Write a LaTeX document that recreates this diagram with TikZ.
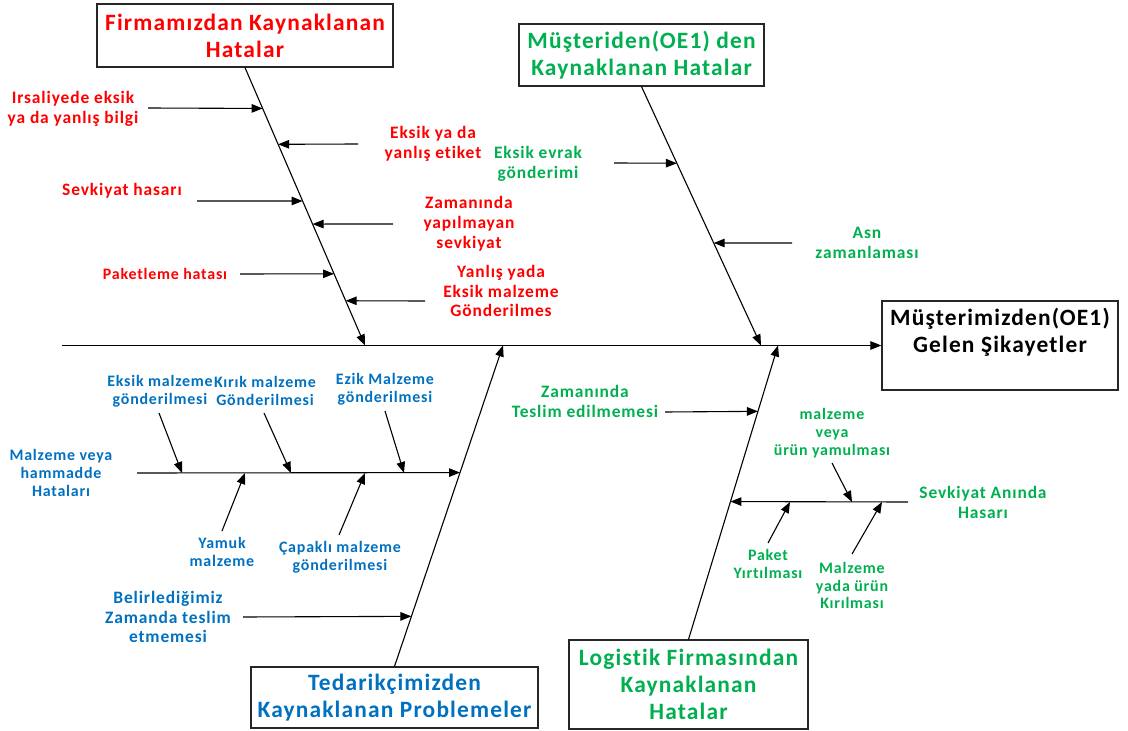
\documentclass[tikz,border=0pt]{standalone}
\usepackage{fontspec}
\setmainfont{Carlito}
\newfontfamily\widefam[LetterSpace=5,Ligatures=NoCommon]{Carlito}
\usetikzlibrary{arrows.meta,calc}
\definecolor{fred}{HTML}{FF0000}
\definecolor{fgreen}{HTML}{00B050}
\definecolor{fblue}{HTML}{0070C0}
\begin{document}
\begin{tikzpicture}[x=1bp,y=-1bp,
  arr/.style={-{Triangle[length=11bp,width=8.5bp]}, line width=1.1bp},
  catbox/.style={draw=black!85, line width=1.2bp, fill=white, inner sep=0pt, align=center,
                 font=\widefam\bfseries\fontsize{23.5}{27}\selectfont},
  lbl/.style={inner sep=0pt, align=center, font=\widefam\bfseries\fontsize{17.5}{20}\selectfont},
  sml/.style={inner sep=0pt, align=center, font=\widefam\bfseries\fontsize{16}{18}\selectfont}]
\useasboundingbox (0,0) rectangle (1128,731);

% ---------- category boxes and effect box ----------
\node[catbox, text=fred, minimum width=296bp, minimum height=63bp] (fb) at (245,35.5)
  {Firmamızdan Kaynaklanan\\Hatalar};
\node[catbox, text=fgreen, minimum width=245bp, minimum height=62bp] (mb) at (641.5,55)
  {Müşteriden(OE1) den\\Kaynaklanan Hatalar};
\node[catbox, text=fblue, minimum width=287bp, minimum height=61bp] (tb) at (394.5,697.5)
  {Tedarikçimizden\\Kaynaklanan Problemeler};
\node[catbox, text=fgreen, minimum width=239bp, minimum height=89bp] (lb) at (688.5,684.5)
  {Logistik Firmasından\\Kaynaklanan\\Hatalar};
\node[draw=black!85, line width=1.2bp, minimum width=236bp, minimum height=89bp] (eb) at (1000,345.5) {};
\node[inner sep=0pt, align=center, font=\widefam\bfseries\fontsize{23.5}{27}\selectfont] (et) at (1000,332.5)
  {Müşterimizden(OE1)\\Gelen Şikayetler};

% ---------- spine ----------
\coordinate (sp0) at (62,345.5);
\draw[arr] (sp0) -- (eb.west);
\coordinate (rt) at (365,345.5);
\coordinate (gt) at (761,345.5);
\coordinate (bt) at (503,345.5);
\coordinate (lt) at (778,345.5);

% ---------- main bones ----------
\draw[arr] (fb.south) -- (rt);
\draw[arr] (mb.south) -- (gt);
\draw[arr] (tb.north) -- (bt);
\draw[arr] (lb.north) -- (lt);

% ---------- causes: Firmamızdan ----------
\coordinate (r1t) at ($(fb.south)!0.147!(rt)$);
\coordinate (r2t) at ($(fb.south)!0.276!(rt)$);
\coordinate (r3t) at ($(fb.south)!0.480!(rt)$);
\coordinate (r4t) at ($(fb.south)!0.563!(rt)$);
\coordinate (r5t) at ($(fb.south)!0.742!(rt)$);
\coordinate (r6t) at ($(fb.south)!0.839!(rt)$);
\coordinate (r1s) at (148,108);
\coordinate (r2s) at (358,144);
\coordinate (r3s) at (197,201);
\coordinate (r4s) at (393,224);
\coordinate (r5s) at (240,274);
\coordinate (r6s) at (425,301);
\draw[arr] (r1s) -- (r1t);
\draw[arr] (r2s) -- (r2t);
\draw[arr] (r3s) -- (r3t);
\draw[arr] (r4s) -- (r4t);
\draw[arr] (r5s) -- (r5t);
\draw[arr] (r6s) -- (r6t);
\node[lbl, text=fred] (r1) at (73,109) {Irsaliyede eksik\\ya da yanlış bilgi};
\node[lbl, text=fred] (r2) at (433,144) {Eksik ya da\\yanlış etiket};
\node[lbl, text=fred] (r3) at (122,191) {Sevkiyat hasarı};
\node[lbl, text=fred] (r4) at (469,224) {Zamanında\\yapılmayan\\sevkiyat};
\node[lbl, text=fred, font=\widefam\bfseries\fontsize{16}{18}\selectfont] (r5) at (165,274) {Paketleme hatası};
\node[lbl, text=fred] (r6) at (501,291) {Yanlış yada\\Eksik malzeme\\Gönderilmes};

% ---------- causes: Müşteriden ----------
\coordinate (g1t) at ($(mb.south)!0.296!(gt)$);
\coordinate (g2t) at ($(mb.south)!0.604!(gt)$);
\coordinate (g1s) at (614,163);
\coordinate (g2s) at (792,243);
\draw[arr] (g1s) -- (g1t);
\draw[arr] (g2s) -- (g2t);
\node[lbl, text=fgreen] (g1) at (538,163.5) {Eksik evrak\\gönderimi};
\node[lbl, text=fgreen] (g2) at (867,243) {Asn\\zamanlaması};

% ---------- causes: Tedarikçimizden ----------
\coordinate (b1t) at ($(tb.north)!0.604!(bt)$);
\coordinate (b2t) at ($(tb.north)!0.156!(bt)$);
\coordinate (b1s) at (137,473);
\coordinate (b2s) at (243,617);
\draw[arr] (b1s) -- (b1t);
\draw[arr] (b2s) -- (b2t);
\node[sml, text=fblue] (b1) at (61,473) {Malzeme veya\\hammadde\\Hataları};
\node[lbl, text=fblue] (b2) at (168,617) {Belirlediğimiz\\Zamanda teslim\\etmemesi};
% sub-causes on the material branch
\coordinate (b11s) at (159,413); \coordinate (b11t) at (182,473);
\coordinate (b12s) at (264,413); \coordinate (b12t) at (291,473);
\coordinate (b13s) at (385,411); \coordinate (b13t) at (404,473);
\coordinate (b14s) at (222,531); \coordinate (b14t) at (245,473);
\coordinate (b15s) at (339,535); \coordinate (b15t) at (365,473);
\draw[arr] (b11s) -- (b11t);
\draw[arr] (b12s) -- (b12t);
\draw[arr] (b13s) -- (b13t);
\draw[arr] (b14s) -- (b14t);
\draw[arr] (b15s) -- (b15t);
\node[sml, text=fblue] (b11) at (160,391) {Eksik malzeme\\gönderilmesi};
\node[sml, text=fblue] (b12) at (265,391) {Kırık malzeme\\Gönderilmesi};
\node[sml, text=fblue] (b13) at (385,389) {Ezik Malzeme\\gönderilmesi};
\node[sml, text=fblue] (b14) at (222,552) {Yamuk\\malzeme};
\node[sml, text=fblue] (b15) at (340,557) {Çapaklı malzeme\\gönderilmesi};

% ---------- causes: Logistik ----------
\coordinate (l1t) at ($(lb.north)!0.776!(lt)$);
\coordinate (l2t) at ($(lb.north)!0.469!(lt)$);
\coordinate (l1s) at (665,412);
\coordinate (l2s) at (908,502);
\draw[arr] (l1s) -- (l1t);
\draw[arr] (l2s) -- (l2t);
\node[lbl, text=fgreen] (l1) at (585,401) {Zamanında\\Teslim edilmemesi};
\node[lbl, text=fgreen] (l2) at (983,502) {Sevkiyat Anında\\Hasarı};
% sub-causes on the shipping-damage branch
\coordinate (l21s) at (832,463); \coordinate (l21t) at (852,502);
\coordinate (l22s) at (768,543); \coordinate (l22t) at (790,502);
\coordinate (l23s) at (852,554); \coordinate (l23t) at (882,502);
\draw[arr] (l21s) -- (l21t);
\draw[arr] (l22s) -- (l22t);
\draw[arr] (l23s) -- (l23t);
\node[sml, text=fgreen] (l21) at (832,433) {malzeme\\veya\\ürün yamulması};
\node[sml, text=fgreen] (l22) at (768,564) {Paket\\Yırtılması};
\node[sml, text=fgreen] (l23) at (852,585.5) {Malzeme\\yada ürün\\Kırılması};
\end{tikzpicture}
\end{document}
